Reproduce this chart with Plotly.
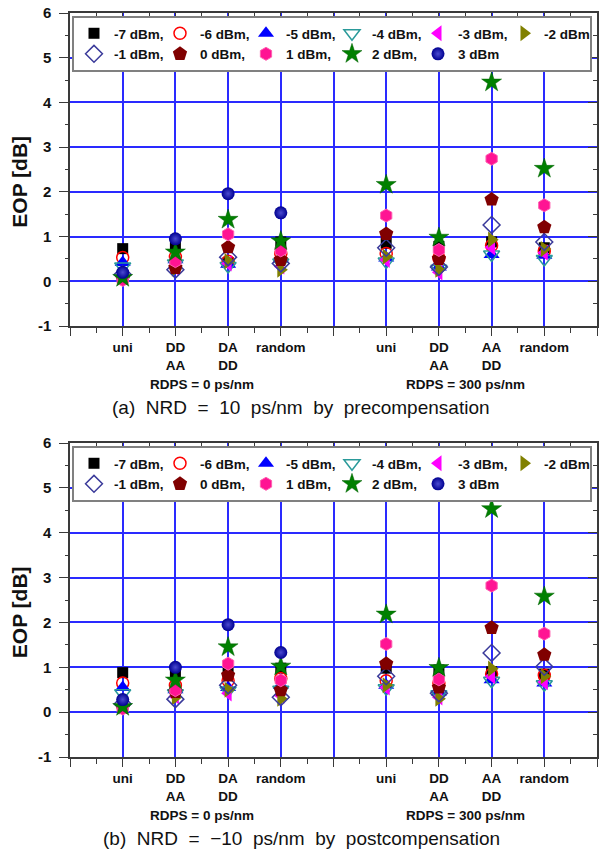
import plotly.graph_objects as go

# ---------------- data ----------------
positions = [1, 2, 3, 4, 6, 7, 8, 9]
category_labels = ["uni", "DD<br>AA", "DA<br>DD", "random",
                   "uni", "DD<br>AA", "AA<br>DD", "random"]
y_tick_values = [-1, 0, 1, 2, 3, 4, 5, 6]
y_tick_labels = ["-1", "0", "1", "2", "3", "4", "5", "6"]
series_names = ["-7 dBm,", "-6 dBm,", "-5 dBm,", "-4 dBm,", "-3 dBm,", "-2 dBm",
                "-1 dBm,", "0 dBm,", "1 dBm,", "2 dBm,", "3 dBm"]
group_labels = ["RDPS = 0 ps/nm", "RDPS = 300 ps/nm"]
group_centers = [2.5, 7.5]
captions = ["(a)\u00a0 NRD\u00a0 =\u00a0 10\u00a0 ps/nm\u00a0 by\u00a0 precompensation",
            "(b)\u00a0 NRD\u00a0 =\u00a0 \u221210\u00a0 ps/nm\u00a0 by\u00a0 postcompensation"]

# (a) NRD = 10 ps/nm, precompensation
pre_m7 = [0.73, 0.80, 0.42, 0.88, 0.85, 0.78, 0.88, 0.75]
pre_m6 = [0.53, 0.55, 0.45, 0.62, 0.62, 0.52, 0.80, 0.68]
pre_m5 = [0.42, 0.48, 0.38, 0.50, 0.52, 0.32, 0.60, 0.58]
pre_m4 = [0.33, 0.40, 0.34, 0.42, 0.44, 0.28, 0.60, 0.50]
pre_m3 = [0.12, 0.30, 0.40, 0.33, 0.48, 0.20, 0.76, 0.64]
pre_m2 = [0.10, 0.28, 0.45, 0.26, 0.55, 0.26, 0.93, 0.72]
pre_m1 = [0.15, 0.26, 0.54, 0.40, 0.75, 0.32, 1.26, 0.88]
pre_p0 = [0.05, 0.30, 0.76, 0.48, 1.06, 0.50, 1.83, 1.21]
pre_p1 = [0.03, 0.45, 1.05, 0.69, 1.47, 0.70, 2.74, 1.70]
pre_p2 = [0.08, 0.65, 1.38, 0.90, 2.16, 0.98, 4.45, 2.52]
pre_p3 = [0.20, 0.95, 1.96, 1.53, None, None, None, None]

# (b) NRD = -10 ps/nm, postcompensation
post_m7 = [0.88, 0.87, 0.90, 0.98, 0.98, 0.94, 0.90, 0.85]
post_m6 = [0.65, 0.60, 0.70, 0.75, 0.70, 0.65, 0.85, 0.82]
post_m5 = [0.55, 0.50, 0.55, 0.60, 0.60, 0.45, 0.72, 0.65]
post_m4 = [0.42, 0.42, 0.48, 0.50, 0.53, 0.40, 0.70, 0.62]
post_m3 = [0.15, 0.35, 0.42, 0.37, 0.55, 0.33, 0.80, 0.67]
post_m2 = [0.13, 0.33, 0.50, 0.30, 0.60, 0.30, 0.97, 0.80]
post_m1 = [0.18, 0.29, 0.60, 0.33, 0.80, 0.42, 1.32, 1.01]
post_p0 = [0.10, 0.45, 0.82, 0.49, 1.08, 0.55, 1.88, 1.28]
post_p1 = [0.08, 0.49, 1.08, 0.71, 1.52, 0.73, 2.82, 1.75]
post_p2 = [0.12, 0.71, 1.45, 1.02, 2.18, 0.99, 4.53, 2.58]
post_p3 = [0.28, 1.00, 1.95, 1.33, None, None, None, None]

pre_series = [pre_m7, pre_m6, pre_m5, pre_m4, pre_m3, pre_m2,
              pre_m1, pre_p0, pre_p1, pre_p2, pre_p3]
post_series = [post_m7, post_m6, post_m5, post_m4, post_m3, post_m2,
               post_m1, post_p0, post_p1, post_p2, post_p3]

# ---------------- styles ----------------
styles = [
    dict(symbol="square", color="#000000", size=11, line=dict(width=0)),
    dict(symbol="circle-open", color="#ff0000", size=12, line=dict(width=1.5, color="#ff0000")),
    dict(symbol="triangle-up", color="#0000ff", size=14, line=dict(width=0)),
    dict(symbol="triangle-down-open", color="#2a9a9a", size=14, line=dict(width=1.5, color="#2a9a9a")),
    dict(symbol="triangle-left", color="#ff00ff", size=14, line=dict(width=0)),
    dict(symbol="triangle-right", color="#808000", size=14, line=dict(width=0)),
    dict(symbol="diamond-open", color="#3a3a9a", size=13, line=dict(width=1.5, color="#3a3a9a")),
    dict(symbol="pentagon", color="#800000", size=15, line=dict(width=0)),
    dict(symbol="hexagon", color="#ff1493", size=13, line=dict(width=1, color="#ff5fb0")),
    dict(symbol="star", color="#008000", size=15, line=dict(width=0.5, color="#006000")),
    dict(symbol="circle", color="#000090", size=13, line=dict(width=0),
         gradient=dict(type="radial", color="#4a4ad0")),
]

W, H = 600, 853
ML, MR, MT, MB = 70, 1, 13, 96
PW, PH = W - ML - MR, H - MT - MB


def px2paper(px):
    return (px - ML) / PW


def py2paper(py):
    return (H - MB - py) / PH


FONT = "Liberation Sans, Arial, sans-serif"
GRID = "#2a2aff"
AXC = "#3a3a3a"

fig = go.Figure()
panels = [("x", "y", "legend", pre_series), ("x2", "y2", "legend2", post_series)]
for xa, ya, lg, data in panels:
    for name, vals, st in zip(series_names, data, styles):
        fig.add_trace(go.Scatter(
            x=positions, y=vals, mode="markers", name=name,
            marker=st, xaxis=xa, yaxis=ya, legend=lg, hoverinfo="skip"))

# dummy traces to activate mirror-tick overlay axes
for xa, ya in [("x3", "y"), ("x", "y3"), ("x4", "y2"), ("x2", "y4")]:
    fig.add_trace(go.Scatter(x=[None], y=[None], xaxis=xa, yaxis=ya,
                             showlegend=False, hoverinfo="skip"))

tickvals_x = list(range(0, 11))
ticktext_x = []
for v in tickvals_x:
    ticktext_x.append(category_labels[positions.index(v)] if v in positions else "")

top_dom = [py2paper(326), py2paper(13)]
bot_dom = [py2paper(757), py2paper(443)]


def main_x(anchor):
    return dict(domain=[0, 1], anchor=anchor, range=[0, 10], tickmode="array",
                tickvals=tickvals_x, ticktext=ticktext_x,
                showgrid=True, gridcolor=GRID, gridwidth=1.5, zeroline=False,
                showline=True, linecolor=AXC, linewidth=1.5, mirror=True,
                ticks="outside", ticklen=8, tickcolor=AXC, tickwidth=1,
                ticklabelstandoff=0,
                minor=dict(tickmode="linear", tick0=0, dtick=0.5, ticks="outside",
                           ticklen=5, tickcolor=AXC, showgrid=False),
                tickfont=dict(family=FONT, size=13.5, color="#111", weight="bold"))


def main_y(anchor, dom):
    return dict(domain=dom, anchor=anchor, range=[-1, 6], tickmode="array",
                tickvals=y_tick_values, ticktext=y_tick_labels,
                showgrid=True, gridcolor=GRID, gridwidth=1.5,
                zeroline=False, showline=True, linecolor=AXC, linewidth=1.5,
                mirror=True, ticks="outside", ticklen=9, tickcolor=AXC,
                ticklabelstandoff=5,
                minor=dict(tickmode="linear", tick0=0, dtick=0.5, ticks="outside",
                           ticklen=3, tickcolor=AXC, showgrid=False),
                tickfont=dict(family=FONT, size=15, color="#111", weight="bold"))


def over_x(over, anchor):
    return dict(overlaying=over, anchor=anchor, side="top", range=[0, 10],
                tickmode="linear", tick0=0, dtick=1, ticks="inside", ticklen=8,
                tickcolor=AXC, showticklabels=False, showgrid=False,
                zeroline=False, showline=False,
                minor=dict(tickmode="linear", tick0=0, dtick=0.5, ticks="inside",
                           ticklen=5, tickcolor=AXC, showgrid=False))


def over_y(over, anchor):
    return dict(overlaying=over, anchor=anchor, side="right", range=[-1, 6],
                tickmode="linear", tick0=0, dtick=1, ticks="inside", ticklen=9,
                tickcolor=AXC, showticklabels=False, showgrid=False,
                zeroline=False, showline=False,
                minor=dict(tickmode="linear", tick0=0, dtick=0.5, ticks="inside",
                           ticklen=4, tickcolor=AXC, showgrid=False))


def legend_cfg(top_px):
    return dict(orientation="h", x=px2paper(72), y=py2paper(top_px),
                xanchor="left", yanchor="top", entrywidth=41,
                entrywidthmode="pixels", itemwidth=30,
                font=dict(family=FONT, size=13.5, color="#111", weight="bold"),
                bgcolor="white", bordercolor="#808080", borderwidth=2,
                traceorder="normal")


annotations = []
for dom, axis_px, xref in [(top_dom, 326, "x"), (bot_dom, 757, "x2")]:
    top_px = H - MB - dom[1] * PH
    mid_px = (top_px + axis_px) / 2
    annotations.append(dict(text="EOP [dB]", textangle=-90, x=px2paper(19),
                            y=py2paper(mid_px + 12), xref="paper", yref="paper",
                            xanchor="center", yanchor="middle", showarrow=False,
                            font=dict(family=FONT, size=21, color="#111", weight="bold")))
    for lab, cx in zip(group_labels, group_centers):
        annotations.append(dict(text=lab, x=cx, xref=xref, y=py2paper(axis_px + 58),
                                yref="paper", xanchor="center", yanchor="middle",
                                showarrow=False,
                                font=dict(family=FONT, size=13.5, color="#111",
                                          weight="bold")))
for cap, axis_px in zip(captions, [326, 757]):
    annotations.append(dict(text=cap, x=px2paper(302), y=py2paper(axis_px + 81),
                            xref="paper", yref="paper", xanchor="center",
                            yanchor="middle", showarrow=False,
                            font=dict(family=FONT, size=19, color="#111")))

fig.update_layout(
    width=W, height=H, autosize=False,
    margin=dict(l=ML, r=MR, t=MT, b=MB, pad=0),
    paper_bgcolor="white", plot_bgcolor="white",
    xaxis=main_x("y"), yaxis=main_y("x", top_dom),
    xaxis2=main_x("y2"), yaxis2=main_y("x2", bot_dom),
    xaxis3=over_x("x", "y"), yaxis3=over_y("y", "x"),
    xaxis4=over_x("x2", "y2"), yaxis4=over_y("y2", "x2"),
    legend=legend_cfg(16), legend2=legend_cfg(446),
    annotations=annotations, showlegend=True,
)

fig.write_html("out.html")
